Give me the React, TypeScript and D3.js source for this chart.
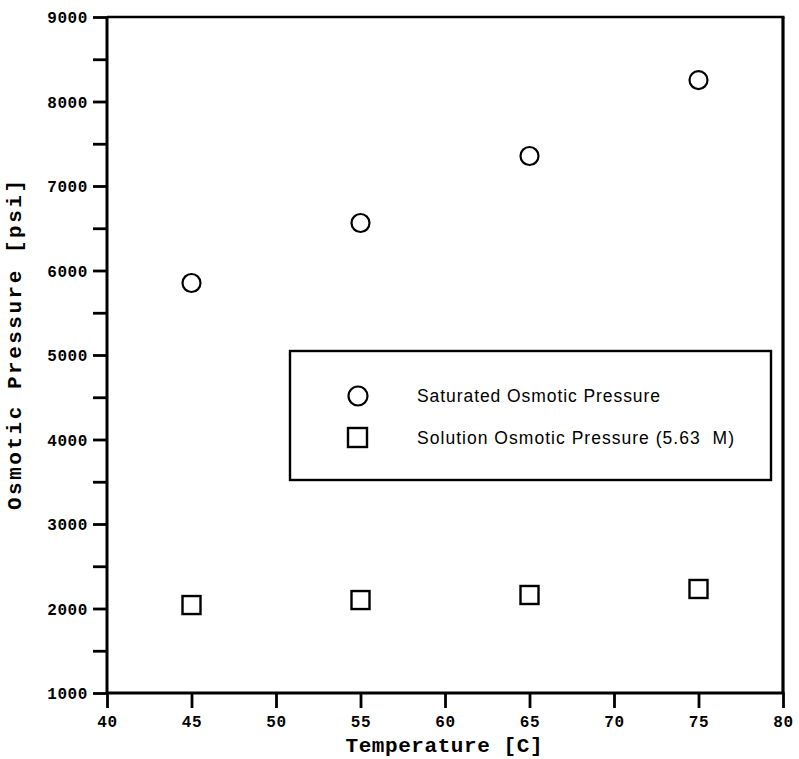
import React, { useEffect, useRef } from "react";
import * as d3 from "d3";

const temperatures = [45, 55, 65, 75];
const saturatedPressure = [5852, 6562, 7355, 8254];
const solutionPressure = [2041, 2100, 2160, 2231];
const xTicks = [40, 45, 50, 55, 60, 65, 70, 75, 80];
const yMajorTicks = [1000, 2000, 3000, 4000, 5000, 6000, 7000, 8000, 9000];
const yMinorTicks = [1500, 2500, 3500, 4500, 5500, 6500, 7500, 8500];
const legendLabels = ["Saturated Osmotic Pressure", "Solution Osmotic Pressure (5.63  M)"];

const W = 799;
const H = 759;
const L = 107, R = 783, T = 17, B = 693;

export default function App() {
  const ref = useRef<SVGSVGElement | null>(null);

  useEffect(() => {
    const svg = d3.select(ref.current);
    svg.selectAll("*").remove();
    const x = d3.scaleLinear().domain([40, 80]).range([L, R]);
    const y = d3.scaleLinear().domain([1000, 9000]).range([B, T]);
    const mono = "'Liberation Mono', 'Courier New', monospace";

    svg.append("rect").attr("width", W).attr("height", H).attr("fill", "#fff");

    // frame: top and right
    svg.append("line").attr("x1", L).attr("x2", R + 1.5).attr("y1", T).attr("y2", T)
      .attr("stroke", "#000").attr("stroke-width", 2.5);
    svg.append("line").attr("x1", R).attr("x2", R).attr("y1", T).attr("y2", B)
      .attr("stroke", "#000").attr("stroke-width", 3.2);

    // y axis
    const ya = svg.append("g").attr("transform", `translate(${L},0)`)
      .call(d3.axisLeft(y).tickValues(yMajorTicks).tickSize(14).tickPadding(5).tickFormat(d3.format("d")) as any);
    ya.select(".domain").attr("stroke-width", 3).attr("d", `M0,${T}V${B + 1}`);
    ya.selectAll(".tick line").attr("stroke-width", 2.8);
    ya.selectAll(".tick text").attr("font-family", mono).attr("font-weight", "bold")
      .attr("font-size", 16).attr("letter-spacing", 0.6).attr("fill", "#000").attr("dy", "0.36em");
    const ym = svg.append("g").attr("transform", `translate(${L},0)`)
      .call(d3.axisLeft(y).tickValues(yMinorTicks).tickSize(14).tickFormat(() => "") as any);
    ym.select(".domain").remove();
    ym.selectAll(".tick line").attr("stroke-width", 2.8);

    // x axis
    const xa = svg.append("g").attr("transform", `translate(0,${B})`)
      .call(d3.axisBottom(x).tickValues(xTicks).tickSize(15).tickPadding(8).tickFormat(d3.format("d")) as any);
    xa.select(".domain").attr("stroke-width", 3).attr("d", `M${L},0H${R + 1.5}`);
    xa.selectAll(".tick line").attr("stroke-width", 2.8);
    xa.selectAll(".tick text").attr("font-family", mono).attr("font-weight", "bold")
      .attr("font-size", 16).attr("letter-spacing", 0.6).attr("fill", "#000");

    // axis titles
    svg.append("text").attr("x", 444).attr("y", 752).attr("text-anchor", "middle")
      .attr("font-family", mono).attr("font-weight", "bold").attr("font-size", 21)
      .attr("textLength", 197).attr("lengthAdjust", "spacing")
      .text("Temperature [C]");
    svg.append("text").attr("transform", `translate(21,345) rotate(-90)`).attr("text-anchor", "middle")
      .attr("font-family", mono).attr("font-weight", "bold").attr("font-size", 21)
      .attr("textLength", 330).attr("lengthAdjust", "spacing")
      .text("Osmotic Pressure [psi]");

    // data
    svg.append("g").selectAll("circle").data(temperatures).join("circle")
      .attr("cx", (d) => x(d)).attr("cy", (_, i) => y(saturatedPressure[i])).attr("r", 9)
      .attr("fill", "none").attr("stroke", "#000").attr("stroke-width", 2.2);
    svg.append("g").selectAll("rect").data(temperatures).join("rect")
      .attr("x", (d) => x(d) - 9).attr("y", (_, i) => y(solutionPressure[i]) - 9)
      .attr("width", 18).attr("height", 18)
      .attr("fill", "none").attr("stroke", "#000").attr("stroke-width", 2.4);

    // legend
    const lg = svg.append("g");
    lg.append("rect").attr("x", 290).attr("y", 351).attr("width", 481).attr("height", 129)
      .attr("fill", "#fff").attr("stroke", "#000").attr("stroke-width", 2.4);
    lg.append("circle").attr("cx", 358).attr("cy", 396).attr("r", 9.5)
      .attr("fill", "none").attr("stroke", "#000").attr("stroke-width", 2.2);
    lg.append("rect").attr("x", 348).attr("y", 428).attr("width", 19).attr("height", 19)
      .attr("fill", "none").attr("stroke", "#000").attr("stroke-width", 2.4);
    const sans = "'Liberation Sans', Arial, sans-serif";
    lg.append("text").attr("x", 417).attr("y", 402).attr("font-family", sans).attr("font-size", 17.5)
      .attr("textLength", 243).attr("lengthAdjust", "spacing").text(legendLabels[0]);
    lg.append("text").attr("x", 417).attr("y", 444).attr("font-family", sans).attr("font-size", 17.5)
      .attr("textLength", 317).attr("lengthAdjust", "spacing").attr("xml:space", "preserve")
      .style("white-space", "pre").text(legendLabels[1]);
  }, []);

  return (
    <svg ref={ref} width={W} height={H}
      style={{ position: "absolute", left: 0, top: 0, display: "block" }} />
  );
}
